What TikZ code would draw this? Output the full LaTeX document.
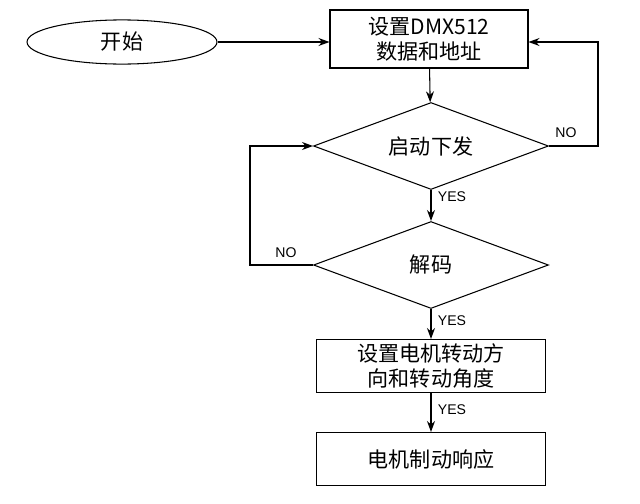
\documentclass[tikz,border=0pt]{standalone}
\usepackage{fontspec}
\setmainfont{Liberation Sans}
\newfontfamily\cjk{Noto Sans CJK SC}
\usetikzlibrary{shapes.geometric,arrows.meta}
\begin{document}
\begin{tikzpicture}[x=0.02cm, y=-0.02cm,
  box/.style={draw, semithick, minimum width=4.58cm, minimum height=1.06cm, align=center, font=\cjk\large, inner sep=1pt},
  dia/.style={draw, semithick, diamond, aspect=2.7, minimum width=4.7cm, minimum height=1.74cm, inner sep=0pt, font=\cjk\large},
  arr/.style={-{Stealth[length=2.2mm,width=1.6mm]}, semithick},
  lab/.style={font=\footnotesize}]
\useasboundingbox (0,0) rectangle (640,504);
\node[draw, semithick, ellipse, minimum width=3.8cm, minimum height=0.8cm, font=\cjk\large] (start) at (122,42) {开始};
\node[box, minimum width=3.96cm, minimum height=1.16cm] (set) at (429,39) {设置DMX512\\数据和地址};
\node[dia] (issue) at (431,146) {启动下发};
\node[dia] (decode) at (431,265) {解码};
\node[box] (motor) at (431,366) {设置电机转动方\\向和转动角度};
\node[box] (resp) at (431,459) {电机制动响应};
\coordinate (r1) at (598,146);
\coordinate (r2) at (598,42);
\coordinate (l1) at (250,265);
\coordinate (l2) at (250,146);
% connectors
\draw[arr] (start) -- (set.west |- start);
\draw[arr] (set) -- (issue);
\draw[arr] (issue.east) -- (r1) -- (r2) -- (set.east |- r2);
\draw[arr] (issue) -- (decode);
\draw[arr] (decode.west) -- (l1) -- (l2) -- (issue.west);
\draw[arr] (decode) -- (motor);
\draw[arr] (motor) -- (resp);
% labels
\node[lab] at (566,133) {NO};
\node[lab] at (286,253) {NO};
\node[lab] at (452,197) {YES};
\node[lab] at (452,321) {YES};
\node[lab] at (452,410) {YES};
\end{tikzpicture}
\end{document}
